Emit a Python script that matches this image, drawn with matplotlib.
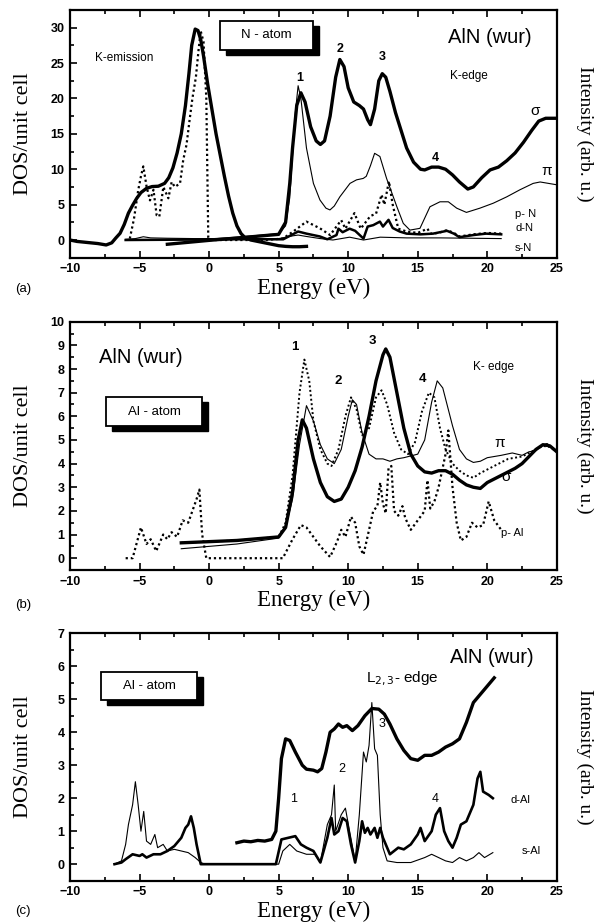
import matplotlib
matplotlib.use("Agg")
import matplotlib.pyplot as plt
from matplotlib.patches import Rectangle
from matplotlib.ticker import MultipleLocator
import matplotlib.transforms as mtransforms

# ---------------- panel (a): N atom ----------------
kem_x = [-10, -9.5, -9, -8.5, -8, -7.4, -7.0, -6.7, -6.4, -6.1, -5.8, -5.5, -5.2, -4.9, -4.5,
         -4.1, -3.65, -3.2, -2.9, -2.6, -2.3, -2.0, -1.7, -1.45, -1.25, -1.0, -0.8, -0.6,
         -0.4, -0.1, 0.2, 0.5, 0.8, 1.1, 1.4, 1.7, 2.0, 2.3, 2.6, 3.0, 3.5, 4.0, 4.5, 5.0,
         5.5, 6.0, 6.5, 7.0]
kem_y = [0.0, -0.2, -0.3, -0.4, -0.5, -0.7, -0.4, 0.3, 0.95, 2.2, 3.8, 4.9, 5.9, 6.7, 7.3,
         7.55, 7.6, 8.0, 8.8, 10.2, 12.3, 15.0, 19.0, 23.5, 27.5, 29.8, 29.6, 28.3, 26.0,
         22.0, 18.5, 15.0, 12.0, 9.0, 6.2, 3.8, 2.0, 0.9, 0.3, 0.0, -0.2, -0.4, -0.6, -0.8,
         -0.9, -0.95, -0.95, -0.9]

pN_x = [-5.7, -5.4, -5.1, -4.9, -4.73, -4.49, -4.25, -4.0, -3.77, -3.58, -3.29, -2.93,
        -2.69, -2.46, -2.09, -1.86, -1.62, -1.4, -1.2, -0.95, -0.75, -0.6, -0.4, -0.2,
        -0.06, 0.0, 2.0, 4.0, 5.3, 6.05, 7.0, 7.97, 8.7, 9.5, 9.8, 10.45, 10.9, 11.6, 12.0,
        12.4, 12.6, 12.93, 13.2, 13.6, 14.2, 15.0, 15.7, 15.9, 16.5, 17.1, 17.6, 18.0,
        19.0, 20.0, 21.0]
pN_y = [0.2, 3.0, 7.0, 9.0, 10.4, 7.5, 5.6, 7.1, 3.5, 3.3, 7.5, 5.9, 8.2, 7.5, 8.0, 11.3,
        13.5, 17.0, 20.0, 23.0, 27.0, 29.5, 28.0, 20.0, 0.4, 0.0, 0.0, 0.0, 0.2, 1.2, 2.6,
        1.65, 0.7, 2.8, 1.6, 3.8, 1.6, 3.4, 3.7, 6.4, 5.0, 8.3, 5.0, 1.6, 1.2, 1.0, 1.6,
        0.9, 1.0, 1.4, 1.0, 0.5, 0.8, 1.0, 0.9]

sigN_x = [-3.0, 0.0, 3.0, 5.0, 5.5, 5.8, 6.0, 6.3, 6.6, 6.9, 7.3, 7.7, 8.0, 8.3, 8.7, 9.1,
          9.4, 9.7, 10.0, 10.4, 10.8, 11.1, 11.4, 11.6, 11.9, 12.2, 12.45, 12.7, 13.0, 13.4,
          13.8, 14.2, 14.7, 15.2, 15.5, 16.0, 16.5, 17.0, 17.5, 18.0, 18.6, 19.0, 19.6,
          20.2, 20.8, 21.4, 22.0, 22.6, 23.2, 23.7, 24.2, 25.0]
sigN_y = [-0.6, -0.05, 0.45, 0.8, 2.5, 8.0, 13.0, 19.0, 20.8, 19.5, 16.0, 14.0, 13.5, 14.0,
          17.5, 23.0, 25.5, 24.5, 21.5, 19.5, 19.0, 18.5, 17.0, 16.3, 18.5, 22.5, 23.5,
          23.0, 21.0, 18.0, 15.5, 13.0, 11.0, 10.0, 9.9, 10.3, 10.3, 10.0, 9.2, 8.2, 7.2,
          7.5, 8.8, 9.9, 10.3, 11.2, 12.3, 13.8, 15.5, 16.8, 17.2, 17.2]

piN_x = [-0.5, 2.0, 5.0, 5.5, 5.8, 6.0, 6.2, 6.4, 6.6, 7.0, 7.5, 7.97, 8.4, 8.69, 9.0,
         9.4, 10.13, 10.6, 11.08, 11.3, 11.6, 11.9, 12.28, 12.76, 13.5, 13.96, 14.44,
         15.16, 15.88, 16.6, 17.2, 17.8, 18.5, 19.47, 20.43, 21.4, 22.35, 23.3, 23.8, 25.0]
piN_y = [0.1, 0.4, 0.9, 2.0, 6.0, 12.0, 18.0, 21.8, 20.0, 13.0, 8.0, 5.65, 4.5, 4.25,
         4.8, 6.1, 8.0, 8.5, 8.7, 9.0, 10.5, 12.25, 11.8, 8.7, 4.7, 2.35, 1.4, 1.65, 4.7,
         5.4, 5.4, 4.5, 3.9, 4.5, 5.2, 6.1, 7.1, 8.0, 8.2, 7.8]

dN_x = [-6.0, -2.0, 2.0, 5.33, 6.4, 7.0, 7.97, 8.5, 9.16, 9.3, 9.6, 10.1, 10.5, 11.1,
        11.4, 11.8, 12.28, 12.5, 12.9, 13.2, 13.7, 14.2, 15.2, 16.1, 17.1, 17.6, 18.0,
        19.0, 19.9, 21.0]
dN_y = [0.0, 0.05, 0.1, 0.1, 1.2, 0.9, 0.5, 0.1, 0.7, 1.6, 1.1, 1.6, 1.3, 0.2, 1.9, 2.1,
        2.6, 1.9, 2.85, 1.7, 1.2, 0.9, 0.8, 0.9, 1.3, 0.9, 0.4, 0.7, 0.9, 0.8]

sN_x = [-6.0, -5.3, -4.73, -4.2, -3.0, -1.0, 2.0, 5.0, 6.05, 6.4, 7.0, 8.0, 8.9, 10.1,
        11.1, 12.3, 14.2, 16.6, 21.0]
sN_y = [0.1, 0.2, 0.46, 0.3, 0.25, 0.2, 0.2, 0.2, 0.6, 0.7, 0.5, 0.2, 0.0, 0.4, 0.0,
        0.4, 0.3, 0.3, 0.2]

# ---------------- panel (b): Al atom, K-edge ----------------
sigAl_x = [-2.0, 2.0, 5.0, 5.5, 6.0, 6.4, 6.7, 7.0, 7.5, 8.0, 8.5, 9.0, 9.5, 10.0, 10.5,
           11.0, 11.5, 12.0, 12.5, 12.7, 13.0, 13.5, 14.0, 14.5, 15.0, 15.5, 16.0, 16.5,
           17.0, 17.5, 18.0, 18.5, 19.0, 19.5, 20.0, 21.0, 22.0, 22.5, 23.0, 23.5, 24.0,
           24.5, 25.0]
sigAl_y = [0.65, 0.75, 0.9, 1.3, 2.8, 5.0, 5.85, 5.5, 4.2, 3.2, 2.6, 2.4, 2.5, 3.0, 3.7,
           4.7, 6.0, 7.5, 8.6, 8.85, 8.5, 7.0, 5.5, 4.4, 3.9, 3.65, 3.6, 3.7, 3.7, 3.55,
           3.3, 3.1, 3.0, 2.95, 3.2, 3.5, 3.8, 4.0, 4.3, 4.6, 4.8, 4.75, 4.5]

piAl_x = [-2.0, 2.0, 5.0, 5.5, 6.0, 6.5, 7.0, 7.5, 8.0, 8.5, 9.0, 9.5, 10.0, 10.3, 10.6,
          11.0, 11.5, 12.0, 12.5, 13.0, 13.5, 14.0, 15.0, 15.5, 16.0, 16.4, 16.8, 17.5,
          18.0, 18.5, 19.0, 19.5, 20.0, 21.0, 21.8, 22.5, 23.0, 23.5, 24.0, 24.3, 25.0]
piAl_y = [0.4, 0.6, 0.85, 1.3, 2.5, 4.8, 6.45, 5.8, 4.8, 4.2, 4.0, 4.6, 6.0, 6.7, 6.5,
          5.3, 4.4, 4.2, 4.2, 4.1, 4.2, 4.25, 4.4, 5.0, 6.6, 7.5, 7.2, 5.6, 4.6, 4.2,
          4.05, 4.1, 4.25, 4.35, 4.45, 4.35, 4.5, 4.55, 4.8, 4.85, 4.55]

totAl_x = [-2.0, 2.0, 5.0, 5.5, 6.0, 6.5, 6.85, 7.2, 7.5, 8.0, 8.5, 8.8, 9.3, 9.8, 10.2,
           10.6, 11.0, 11.5, 12.0, 12.4, 12.8, 13.3, 13.8, 14.3, 14.8, 15.3, 15.8, 16.2,
           16.6, 17.0, 17.5, 18.0, 18.5, 19.0, 19.5, 20.5, 21.5, 22.5, 23.0, 23.5, 24.0,
           24.5, 25.0]
totAl_y = [0.65, 0.75, 0.9, 1.5, 3.5, 7.0, 8.4, 7.5, 5.8, 4.6, 4.0, 3.9, 4.6, 6.0, 6.8,
           6.3, 5.2, 5.5, 6.8, 7.1, 6.5, 5.3, 4.6, 4.4, 4.9, 6.2, 7.0, 6.8, 5.5, 4.6, 4.0,
           3.7, 3.5, 3.4, 3.6, 3.9, 4.2, 4.3, 4.45, 4.6, 4.75, 4.7, 4.5]

pAl_x = [-6.0, -5.5, -4.9, -4.5, -4.2, -3.8, -3.3, -3.0, -2.7, -2.3, -1.9, -1.5, -1.2,
         -0.9, -0.7, -0.5, -0.2, 0.0, 5.3, 6.0, 6.6, 7.0, 7.5, 8.0, 8.7, 9.2, 9.5, 9.8,
         10.2, 10.5, 10.8, 11.1, 11.5, 11.8, 12.1, 12.3, 12.5, 12.7, 12.9, 13.1, 13.3,
         13.6, 13.9, 14.1, 14.5, 15.0, 15.5, 15.7, 15.9, 16.2, 16.5, 17.0, 17.2, 17.5,
         17.8, 18.1, 18.5, 18.9, 19.3, 19.7, 20.1, 20.5, 21.0]
pAl_y = [0.0, 0.0, 1.3, 0.6, 0.8, 0.3, 1.0, 0.8, 1.1, 0.9, 1.6, 1.5, 2.0, 2.5, 2.9, 1.0,
         0.0, 0.0, 0.0, 0.8, 1.4, 1.3, 0.9, 0.5, 0.05, 0.7, 1.2, 0.9, 1.75, 1.5, 0.5,
         0.15, 1.2, 2.0, 2.2, 3.2, 2.3, 1.9, 3.8, 3.9, 2.0, 1.8, 2.2, 1.7, 1.2, 1.6, 2.0,
         3.3, 2.1, 2.4, 3.0, 4.4, 5.4, 3.0, 1.5, 0.75, 0.9, 1.5, 1.3, 1.4, 2.4, 1.6, 1.2]

# ---------------- panel (c): Al atom, L2,3-edge ----------------
L23_x = [2.0, 2.5, 3.0, 3.5, 4.0, 4.5, 4.8, 5.0, 5.2, 5.5, 5.8, 6.2, 6.7, 7.0, 7.5, 7.8,
         8.1, 8.4, 8.7, 9.0, 9.3, 9.6, 9.9, 10.3, 10.7, 11.2, 11.7, 12.2, 12.6, 13.0, 13.5,
         14.0, 14.5, 15.0, 15.5, 16.0, 16.5, 17.0, 17.5, 18.0, 18.5, 19.0, 19.5, 20.0,
         20.5]
L23_y = [0.65, 0.7, 0.68, 0.72, 0.7, 0.75, 1.0, 2.0, 3.2, 3.8, 3.75, 3.4, 3.0, 2.88, 2.85,
         2.8, 2.9, 3.4, 4.0, 4.1, 4.25, 4.15, 4.2, 4.05, 4.2, 4.5, 4.72, 4.7, 4.55, 4.25,
         3.8, 3.45, 3.2, 3.15, 3.3, 3.3, 3.4, 3.55, 3.65, 3.8, 4.3, 4.9, 5.15, 5.4, 5.65]

dAl_x = [-6.8, -6.3, -6.0, -5.5, -5.0, -4.8, -4.5, -4.0, -3.5, -3.0, -2.5, -2.0, -1.7,
         -1.5, -1.3, -1.1, -0.9, -0.6, 4.8, 5.2, 5.7, 6.2, 6.6, 7.0, 7.5, 8.0, 8.5, 8.8,
         9.0, 9.3, 9.6, 9.9, 10.2, 10.5, 10.8, 11.0, 11.2, 11.4, 11.6, 11.9, 12.1, 12.3,
         12.5, 13.0, 13.3, 13.6, 14.0, 14.5, 15.0, 15.2, 15.5, 16.0, 16.3, 16.6, 16.9,
         17.2, 17.5, 17.8, 18.1, 18.5, 19.0, 19.3, 19.5, 19.7, 20.1, 20.4]
dAl_y = [0.0, 0.05, 0.15, 0.3, 0.25, 0.3, 0.2, 0.3, 0.3, 0.4, 0.55, 0.8, 1.1, 1.2, 1.45,
         1.1, 0.6, 0.0, 0.0, 0.75, 0.8, 0.85, 0.6, 0.5, 0.4, 0.05, 0.8, 1.4, 0.9, 1.0,
         1.4, 1.3, 0.6, 0.05, 0.7, 1.3, 0.95, 1.1, 0.9, 1.1, 0.8, 1.1, 0.8, 0.3, 0.4, 0.5,
         0.45, 0.6, 0.9, 1.1, 0.7, 1.0, 1.5, 1.7, 1.0, 0.7, 0.5, 0.8, 1.2, 1.3, 1.8, 2.6,
         2.8, 2.2, 2.1, 2.0]

sAl_x = [-6.8, -6.3, -6.0, -5.8, -5.5, -5.3, -5.1, -4.9, -4.7, -4.5, -4.2, -3.9, -3.7,
         -3.3, -3.0, -2.5, -2.0, -1.5, -1.0, -0.6, -0.3, 5.0, 5.3, 5.8, 6.3, 7.0, 7.6, 8.0,
         8.5, 8.8, 9.0, 9.1, 9.5, 9.8, 10.1, 10.5, 10.8, 11.1, 11.3, 11.5, 11.7, 11.9,
         12.1, 12.3, 12.5, 12.8, 13.5, 14.5, 15.5, 16.0, 16.5, 17.0, 17.5, 18.0, 18.5,
         19.0, 19.4, 19.8, 20.4]
sAl_y = [0.0, 0.1, 0.6, 1.2, 1.8, 2.5, 1.8, 1.0, 1.6, 0.7, 0.6, 0.9, 0.5, 0.6, 0.4, 0.45,
         0.4, 0.35, 0.2, 0.05, 0.0, 0.0, 0.4, 0.6, 0.4, 0.3, 0.3, 0.05, 1.2, 1.5, 2.4, 1.0,
         1.5, 1.7, 1.0, 0.1, 1.5, 3.4, 3.1, 3.6, 4.9, 3.5, 3.3, 1.5, 0.5, 0.1, 0.05, 0.05,
         0.2, 0.3, 0.2, 0.1, 0.05, 0.2, 0.1, 0.2, 0.35, 0.2, 0.35]

SANS = "Liberation Sans"
SERIF = "Liberation Serif"
THICK, THIN = 2.4, 0.8
DOT = (0, (1, 1.3))

fig = plt.figure(figsize=(6.04, 9.24), dpi=100)
axA = fig.add_axes([0.1159, 0.7211, 0.806, 0.2681])
axB = fig.add_axes([0.1159, 0.3831, 0.806, 0.2687])
axC = fig.add_axes([0.1159, 0.0469, 0.806, 0.2677])


def style(ax, ylim, ymaj):
    ax.set_xlim(-10, 25)
    ax.set_ylim(*ylim)
    ax.xaxis.set_major_locator(MultipleLocator(5))
    ax.xaxis.set_minor_locator(MultipleLocator(2.5))
    ax.yaxis.set_major_locator(MultipleLocator(ymaj))
    ax.yaxis.set_minor_locator(MultipleLocator(ymaj / 2))
    ax.tick_params(which="both", direction="in", top=True, right=False, width=1.2)
    ax.tick_params(which="major", length=5, labelsize=9, pad=4)
    ax.tick_params(which="minor", length=3)
    for s in ax.spines.values():
        s.set_linewidth(1.6)
    for lab in ax.get_xticklabels() + ax.get_yticklabels():
        lab.set_fontfamily(SANS)
        lab.set_fontweight("bold")
    ax.set_xlabel("Energy (eV)", fontfamily=SERIF, fontsize=16.5)
    ax.xaxis.set_label_coords(0.5, -0.08)
    ax.set_ylabel("DOS/unit cell", fontfamily=SERIF, fontsize=16)
    ax.yaxis.set_label_coords(-0.077, 0.5)
    ax.text(1.057, 0.5, "Intensity (arb. u.)", transform=ax.transAxes, rotation=270,
            ha="center", va="center", fontfamily=SERIF, fontsize=14)


def shadow_box(ax, x0, y0, x1, y1, label):
    shadow = mtransforms.offset_copy(ax.transData, fig=fig, x=6, y=-5, units="dots")
    ax.add_patch(Rectangle((x0, y0), x1 - x0, y1 - y0, transform=shadow,
                           facecolor="black", edgecolor="black", zorder=5))
    ax.add_patch(Rectangle((x0, y0), x1 - x0, y1 - y0, facecolor="white",
                           edgecolor="black", lw=1.3, zorder=6))
    ax.text((x0 + x1) / 2, (y0 + y1) / 2, label, ha="center", va="center",
            fontfamily=SANS, fontsize=9.5, zorder=7)


def txt(ax, x, y, s, size=8.5, **kw):
    ax.text(x, y, s, fontfamily=SANS, fontsize=size, **kw)


# ---- (a)
ax = axA
ax.plot(kem_x, kem_y, color="black", lw=THICK)
ax.plot(pN_x, pN_y, color="black", lw=1.6, ls=DOT)
ax.plot(sigN_x, sigN_y, color="black", lw=THICK)
ax.plot(piN_x, piN_y, color="black", lw=THIN)
ax.plot(dN_x, dN_y, color="black", lw=1.8)
ax.plot(sN_x, sN_y, color="black", lw=THIN)
style(ax, (-2.5, 32.5), 5)
shadow_box(ax, 0.8, 26.9, 7.45, 30.9, "N - atom")
txt(ax, -8.2, 25.3, "K-emission", 8.5)
txt(ax, 17.2, 27.9, "AlN (wur)", 14.5)
txt(ax, 17.3, 22.8, "K-edge", 8.5)
txt(ax, 6.3, 22.5, "1", 9, fontweight="bold")
txt(ax, 9.2, 26.6, "2", 9, fontweight="bold")
txt(ax, 12.2, 25.5, "3", 9, fontweight="bold")
txt(ax, 16.0, 11.2, "4", 9, fontweight="bold")
txt(ax, 23.1, 17.6, "σ", 11)
txt(ax, 23.9, 9.2, "π", 11)
txt(ax, 22.0, 3.3, "p- N", 8)
txt(ax, 22.0, 1.3, "d-N", 8)
txt(ax, 22.0, -1.6, "s-N", 8)

# ---- (b)
ax = axB
ax.plot(sigAl_x, sigAl_y, color="black", lw=THICK)
ax.plot(piAl_x, piAl_y, color="black", lw=THIN)
ax.plot(totAl_x, totAl_y, color="black", lw=1.4, ls=DOT)
ax.plot(pAl_x, pAl_y, color="black", lw=1.6, ls=DOT)
style(ax, (-0.5, 10), 1)
shadow_box(ax, -7.4, 5.6, -0.5, 6.8, "Al - atom")
txt(ax, -7.9, 8.25, "AlN (wur)", 14.5)
txt(ax, 19.0, 7.95, "K- edge", 8.5)
txt(ax, 5.9, 8.8, "1", 9.5, fontweight="bold")
txt(ax, 9.0, 7.35, "2", 9.5, fontweight="bold")
txt(ax, 11.5, 9.05, "3", 9.5, fontweight="bold")
txt(ax, 15.1, 7.45, "4", 9.5, fontweight="bold")
txt(ax, 20.5, 4.7, "π", 11)
txt(ax, 21.0, 3.25, "σ", 11)
txt(ax, 21.0, 0.95, "p- Al", 8)

# ---- (c)
ax = axC
ax.plot(L23_x, L23_y, color="black", lw=THICK)
ax.plot(dAl_x, dAl_y, color="black", lw=1.9)
ax.plot(sAl_x, sAl_y, color="black", lw=THIN)
style(ax, (-0.5, 7), 1)
shadow_box(ax, -7.75, 4.99, -0.85, 5.82, "Al - atom")
txt(ax, 17.3, 6.1, "AlN (wur)", 14.5)
txt(ax, 11.3, 5.5, "L$_{2,3}$- edge", 11)
txt(ax, 5.8, 1.9, "1", 9)
txt(ax, 9.3, 2.8, "2", 9)
txt(ax, 12.2, 4.15, "3", 9)
txt(ax, 16.0, 1.9, "4", 9)
txt(ax, 21.7, 1.85, "d-Al", 8)
txt(ax, 22.5, 0.3, "s-Al", 8)

for y, lab in [(0.684, "(a)"), (0.342, "(b)"), (0.011, "(c)")]:
    fig.text(0.025, y, lab, fontfamily=SANS, fontsize=9.5)

fig.savefig("out.png", dpi=100)
